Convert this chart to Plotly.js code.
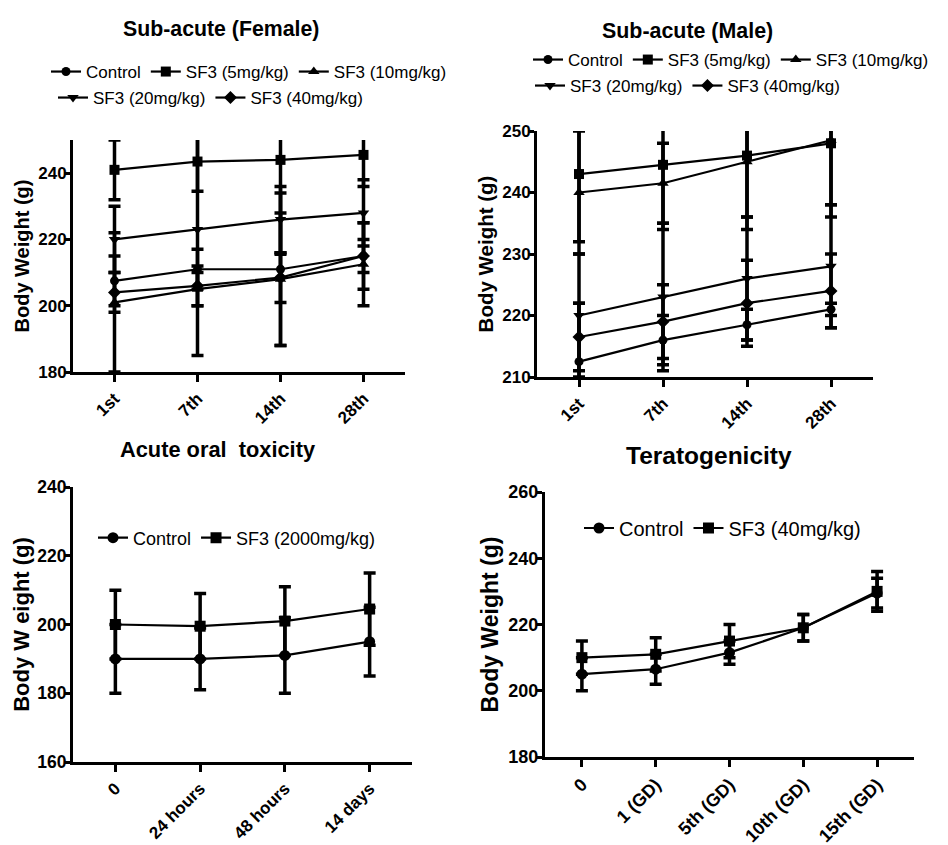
<!DOCTYPE html>
<html><head><meta charset="utf-8">
<script src="https://cdn.plot.ly/plotly-3.0.1.min.js"></script>
<style>html,body{margin:0;padding:0;background:#fff}#chart{width:948px;height:845px}</style>
</head><body><div id="chart"></div>
<script>
const W = 948, H = 845;
// ---- Sub-acute (Female) ----
const subCats = ['1st', '7th', '14th', '28th'];
const femControl = [207.5, 211, 211, 215];
const femControlErr = [7.5, 6, 23, 5];
const fem5 = [241, 243.5, 244, 245.5];
const fem5Err = [9, 9, 28.5, 9.5];
const fem10 = [201, 205, 208, 212.5];
const fem10Err = [21, 5, 20, 12.5];
const fem20 = [220, 223, 226, 228];
const fem20Err = [10, 38, 10, 10];
const fem40 = [204, 206, 208.5, 215];
const fem40Err = [6, 6, 7.5, 10];
// ---- Sub-acute (Male) ----
const maleControl = [212.5, 216, 218.5, 221];
const maleControlErr = [9.5, 4, 2.5, 1];
const male5 = [243, 244.5, 246, 248];
const male5Err = [11, 10.5, 10, 12];
const male10 = [240, 241.5, 245, 248.5];
const male10Err = [10, 6.5, 11, 10.5];
const male20 = [220, 223, 226, 228];
const male20Err = [10, 12, 10, 10];
const male40 = [216.5, 219, 222, 224];
const male40Err = [5.5, 6, 7, 6];
// ---- Acute oral toxicity ----
const acuteCats = ['0', '24 hours', '48 hours', '14 days'];
const acuteControl = [190, 190, 191, 195];
const acuteControlErr = [10, 9, 11, 10];
const acuteSF3 = [200, 199.5, 201, 204.5];
const acuteSF3Err = [10, 9.5, 10, 10.5];
// ---- Teratogenicity ----
const teratCats = ['0', '1 (GD)', '5th (GD)', '10th (GD)', '15th (GD)'];
const teratControl = [205, 206.5, 211.5, 219, 229.5];
const teratControlErr = [5, 4.5, 3.5, 4, 4.5];
const teratSF3 = [210, 211, 215, 219, 230];
const teratSF3Err = [5, 5, 5, 4, 6];

const FONT = 'Liberation Sans, Arial, sans-serif';
const px = x => x / W;
const py = y => 1 - y / H;

function tr(name, x, y, err, symbol, xa, ya, legend, msize) {
  return {
    type: 'scatter', mode: 'lines+markers', name: name, x: x, y: y,
    xaxis: xa, yaxis: ya, legend: legend, cliponaxis: true,
    line: {color: '#000', width: 2.2},
    marker: {color: '#000', symbol: symbol, size: msize || 10},
    error_y: {type: 'data', array: err, visible: true, color: '#000', thickness: 3.5, width: 6}
  };
}

const data = [
  tr('Control', subCats, femControl, femControlErr, 'circle', 'x', 'y', 'legend', 9),
  tr('SF3 (5mg/kg)', subCats, fem5, fem5Err, 'square', 'x', 'y', 'legend'),
  tr('SF3 (10mg/kg)', subCats, fem10, fem10Err, 'triangle-up', 'x', 'y', 'legend'),
  tr('SF3 (20mg/kg)', subCats, fem20, fem20Err, 'triangle-down', 'x', 'y', 'legend2'),
  tr('SF3 (40mg/kg)', subCats, fem40, fem40Err, 'diamond', 'x', 'y', 'legend2'),
  tr('Control', subCats, maleControl, maleControlErr, 'circle', 'x2', 'y2', 'legend3', 9),
  tr('SF3 (5mg/kg)', subCats, male5, male5Err, 'square', 'x2', 'y2', 'legend3'),
  tr('SF3 (10mg/kg)', subCats, male10, male10Err, 'triangle-up', 'x2', 'y2', 'legend3'),
  tr('SF3 (20mg/kg)', subCats, male20, male20Err, 'triangle-down', 'x2', 'y2', 'legend4'),
  tr('SF3 (40mg/kg)', subCats, male40, male40Err, 'diamond', 'x2', 'y2', 'legend4'),
  tr('Control', acuteCats, acuteControl, acuteControlErr, 'circle', 'x3', 'y3', 'legend5', 11),
  tr('SF3 (2000mg/kg)', acuteCats, acuteSF3, acuteSF3Err, 'square', 'x3', 'y3', 'legend5', 11),
  tr('Control', teratCats, teratControl, teratControlErr, 'circle', 'x4', 'y4', 'legend6', 11),
  tr('SF3 (40mg/kg)', teratCats, teratSF3, teratSF3Err, 'square', 'x4', 'y4', 'legend6', 11)
];

function xax(d0, d1, anchor, n, fs) {
  return {domain: [px(d0), px(d1)], anchor: anchor, type: 'category', range: [-0.5, n - 0.5],
    showline: true, linewidth: 3, linecolor: '#000', ticks: 'outside', ticklen: 7, tickwidth: 3, tickcolor: '#000',
    showgrid: false, zeroline: false, tickangle: -45, fixedrange: true,
    tickfont: {family: FONT, size: fs, color: '#000', weight: 'bold'}};
}
function yax(top, bot, anchor, range, dtick, fs, tfs, title, standoff) {
  return {domain: [py(bot), py(top)], anchor: anchor, range: range, tick0: range[0], dtick: dtick,
    showline: true, linewidth: 3, linecolor: '#000', ticks: 'outside', ticklen: 6, tickwidth: 3, tickcolor: '#000',
    showgrid: false, zeroline: false, fixedrange: true, ticklabelstandoff: -6,
    tickfont: {family: FONT, size: fs, color: '#000', weight: 'bold'},
    title: {text: title, standoff: standoff, font: {family: FONT, size: tfs, color: '#000', weight: 'bold'}}};
}
function leg(x, y, fs) {
  return {x: px(x), xanchor: 'left', y: py(y), yanchor: 'middle', orientation: 'h',
    bgcolor: 'rgba(0,0,0,0)', borderwidth: 0, font: {family: FONT, size: fs, color: '#000'}, traceorder: 'normal'};
}
function ttl(text, x, y, fs) {
  return {text: '<b>' + text + '</b>', x: px(x), y: py(y), xref: 'paper', yref: 'paper',
    xanchor: 'center', yanchor: 'middle', showarrow: false, font: {family: FONT, size: fs, color: '#000'}};
}

const layout = {
  width: W, height: H, margin: {l: 0, r: 0, t: 0, b: 0},
  paper_bgcolor: '#fff', plot_bgcolor: '#fff', showlegend: true,
  font: {family: FONT, color: '#000'},
  xaxis: xax(73, 405, 'y', 4, 17),
  yaxis: yax(140, 372, 'x', [180, 250], 20, 17, 20, 'Body Weight (g)', 4),
  xaxis2: xax(537, 873, 'y2', 4, 17),
  yaxis2: yax(131, 377, 'x2', [210, 250], 10, 17, 20.5, 'Body Weight (g)', 4),
  xaxis3: xax(73, 412, 'y3', 4, 17),
  yaxis3: yax(487, 762, 'x3', [160, 240], 20, 17.5, 22, 'Body W eight (g)', 2),
  xaxis4: xax(545, 914, 'y4', 5, 18),
  yaxis4: yax(492, 757, 'x4', [180, 260], 20, 18, 23, 'Body Weight (g)', 4),
  legend: leg(46, 72, 17),
  legend2: leg(53, 98, 17),
  legend3: leg(528, 60, 17),
  legend4: leg(530, 86, 17),
  legend5: leg(93, 538, 18),
  legend6: leg(579, 528, 20),
  annotations: [
    ttl('Sub-acute (Female)', 221, 29, 21.3),
    ttl('Sub-acute (Male)', 687, 31, 21.4),
    ttl('Acute oral\u00A0 toxicity', 217, 449, 21.8),
    ttl('Teratogenicity', 709, 455, 24.5)
  ]
};

Plotly.newPlot('chart', data, layout, {displayModeBar: false, staticPlot: true});
</script></body></html>
